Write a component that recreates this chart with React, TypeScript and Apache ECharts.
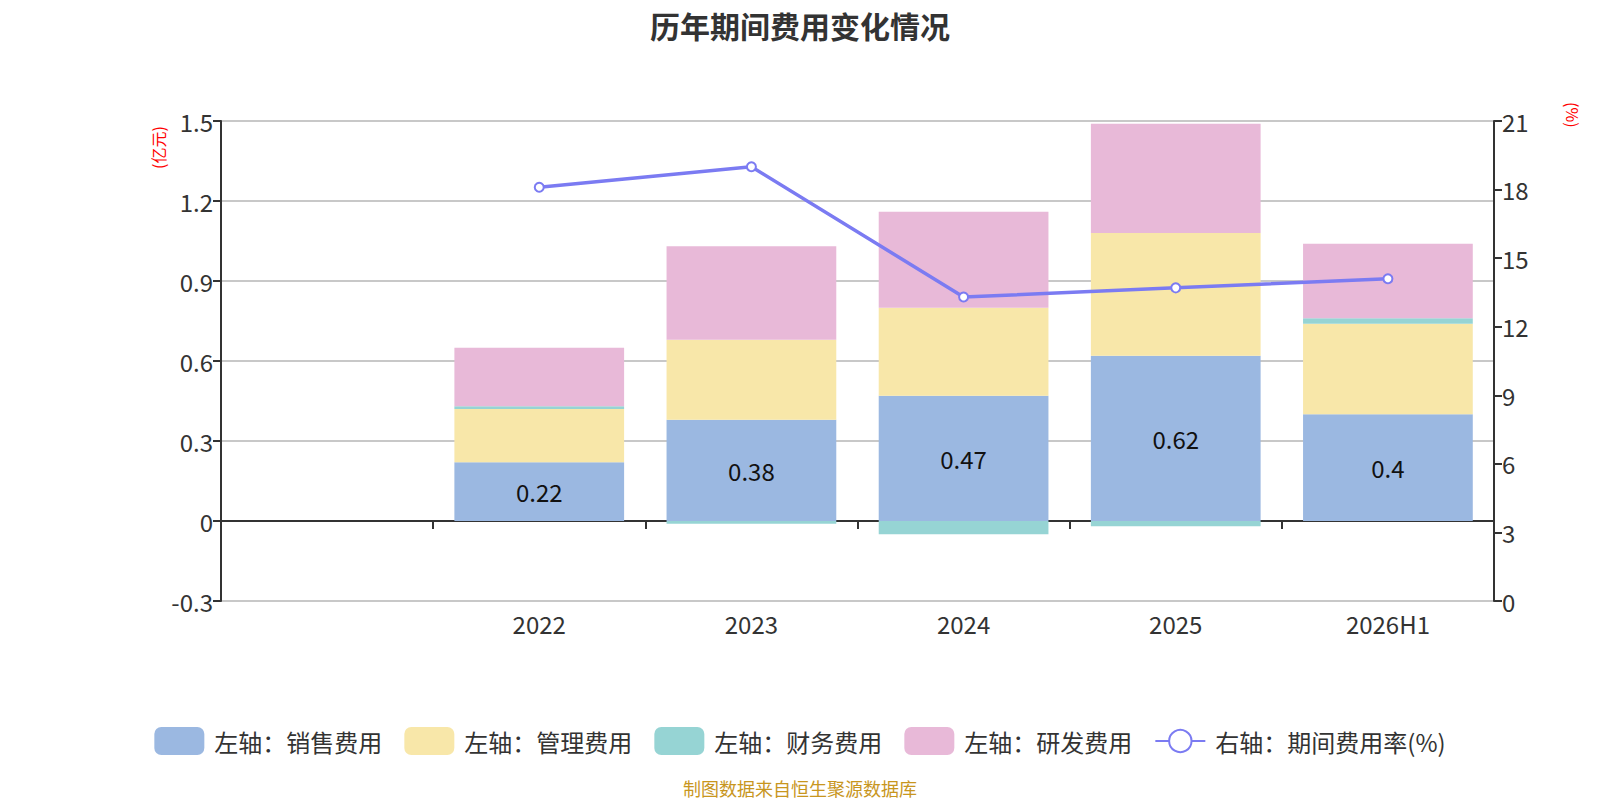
import React, { useEffect, useRef } from "react";
import * as echarts from "echarts";

const categories = ["", "2022", "2023", "2024", "2025", "2026H1"];
const salesExp = ["-", 0.22, 0.38, 0.47, 0.62, 0.4];
const adminExp = ["-", 0.2, 0.3, 0.33, 0.46, 0.34];
const financeExp = ["-", 0.01, -0.01, -0.05, -0.02, 0.02];
const rdExp = ["-", 0.22, 0.35, 0.36, 0.41, 0.28];
const expenseRate = ["-", 18.1, 19.0, 13.3, 13.7, 14.1];

const FONT = "'Noto Sans CJK SC', 'Noto Sans', sans-serif";

export default function App() {
  const ref = useRef<HTMLDivElement>(null);
  useEffect(() => {
    document.body.style.margin = "0";
    const chart = echarts.init(ref.current!, undefined, { renderer: "svg" });
    const barBase = {
      type: "bar",
      stack: "total",
      barWidth: "80%",
      yAxisIndex: 0,
    };
    chart.setOption({
      animation: false,
      textStyle: { fontFamily: FONT },
      title: {
        text: "历年期间费用变化情况",
        left: "center",
        top: 5,
        textStyle: { fontSize: 30, fontWeight: "bold", color: "#333", fontFamily: FONT },
      },
      grid: { left: 221, right: 106, top: 121, bottom: 199 },
      legend: {
        top: 722,
        left: "center",
        itemWidth: 50,
        itemHeight: 28,
        itemGap: 22,
        textStyle: { fontSize: 24, color: "#333", fontFamily: FONT, padding: [0, 0, 0, 5] },
        data: [
          { name: "左轴：销售费用", icon: "roundRect" },
          { name: "左轴：管理费用", icon: "roundRect" },
          { name: "左轴：财务费用", icon: "roundRect" },
          { name: "左轴：研发费用", icon: "roundRect" },
          { name: "右轴：期间费用率(%)" },
        ],
      },
      graphic: [
        {
          type: "text",
          x: 150,
          y: 169,
          rotation: Math.PI / 2,
          style: { text: "(亿元)", fill: "#ff0000", fontSize: 16, fontFamily: FONT },
        },
        {
          type: "text",
          x: 1581,
          y: 102,
          rotation: -Math.PI / 2,
          style: { text: "(%)", fill: "#ff0000", fontSize: 16, fontFamily: FONT },
        },
        {
          type: "text",
          left: "center",
          top: 779,
          style: { text: "制图数据来自恒生聚源数据库", fill: "#c8961e", fontSize: 18, fontFamily: FONT },
        },
      ],
      xAxis: {
        type: "category",
        data: categories,
        axisLine: { onZero: true, lineStyle: { color: "#333", width: 2 } },
        axisTick: { show: true, length: 8, lineStyle: { color: "#333", width: 2 } },
        axisLabel: { margin: 10, fontSize: 24, color: "#333", fontFamily: FONT },
      },
      yAxis: [
        {
          type: "value",
          min: -0.3,
          max: 1.5,
          interval: 0.3,
          axisLine: { show: true, lineStyle: { color: "#333", width: 2 } },
          axisTick: { show: true, length: 8, lineStyle: { color: "#333", width: 2 } },
          axisLabel: {
            fontSize: 24,
            color: "#333",
            fontFamily: FONT,
            formatter: (v: number) => String(Math.round(v * 10) / 10),
          },
          splitLine: { lineStyle: { color: "#c8c8c8", width: 2 } },
        },
        {
          type: "value",
          min: 0,
          max: 21,
          interval: 3,
          axisLine: { show: true, lineStyle: { color: "#333", width: 2 } },
          axisTick: { show: true, length: 8, lineStyle: { color: "#333", width: 2 } },
          axisLabel: { fontSize: 24, color: "#333", fontFamily: FONT },
          splitLine: { show: false },
        },
      ],
      series: [
        {
          ...barBase,
          name: "左轴：销售费用",
          data: salesExp,
          itemStyle: { color: "#9bb8e1" },
          label: {
            show: true,
            position: "inside",
            fontSize: 24,
            color: "#111",
            fontFamily: FONT,
          },
        },
        {
          ...barBase,
          name: "左轴：管理费用",
          data: adminExp,
          itemStyle: { color: "#f8e7a9" },
        },
        {
          ...barBase,
          name: "左轴：财务费用",
          data: financeExp,
          itemStyle: { color: "#96d4d4" },
        },
        {
          ...barBase,
          name: "左轴：研发费用",
          data: rdExp,
          itemStyle: { color: "#e8b9d8" },
        },
        {
          type: "line",
          name: "右轴：期间费用率(%)",
          yAxisIndex: 1,
          data: expenseRate,
          symbol: "emptyCircle",
          symbolSize: 9,
          lineStyle: { color: "#7b7bf2", width: 3.5 },
          itemStyle: { color: "#7b7bf2", borderWidth: 2 },
        },
      ],
    });
    return () => chart.dispose();
  }, []);
  return <div ref={ref} style={{ width: 1600, height: 800 }} />;
}
